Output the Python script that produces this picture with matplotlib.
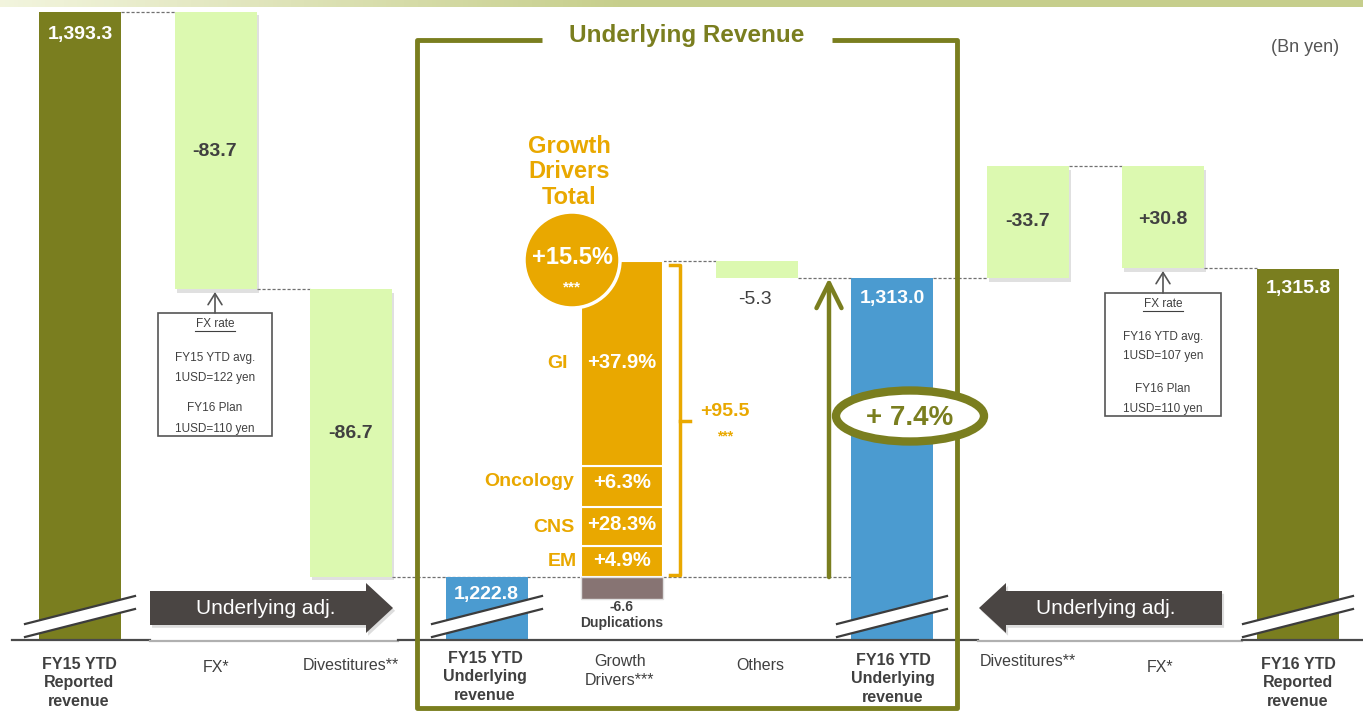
import numpy as np
import matplotlib.pyplot as plt
import matplotlib.patheffects as pe
from matplotlib.patches import Ellipse, Circle, Rectangle, Polygon

plt.rcParams['font.family'] = ['Liberation Sans', 'DejaVu Sans']

# ---------------------------------------------
# DATA (Bn yen)
# ---------------------------------------------
reported_fy15 = 1393.3
fx_fy15 = -83.7
div_fy15 = -86.7
underlying_fy15 = 1222.8

driver_names = ['EM', 'CNS', 'Oncology', 'GI']
driver_values = [9.4, 11.6, 12.6, 61.9]
driver_growth = ['+4.9%', '+28.3%', '+6.3%', '+37.9%']
drivers_total = 95.5
drivers_total_growth = '+15.5%'
duplications = -6.6
others = -5.3

underlying_fy16 = 1313.0
div_fy16 = -33.7
fx_fy16 = 30.8
reported_fy16 = 1315.8
underlying_growth = '+ 7.4%'

category_labels = ['FY15 YTD\nReported\nrevenue', 'FX*', 'Divestitures**',
                   'FY15 YTD\nUnderlying\nrevenue', 'Growth\nDrivers***', 'Others',
                   'FY16 YTD\nUnderlying\nrevenue', 'Divestitures**', 'FX*',
                   'FY16 YTD\nReported\nrevenue']
fx_box_left = ['FY15 YTD avg.', '1USD=122 yen', 'FY16 Plan', '1USD=110 yen']
fx_box_right = ['FY16 YTD avg.', '1USD=107 yen', 'FY16 Plan', '1USD=110 yen']

# ---------------------------------------------
# STYLE / LAYOUT
# ---------------------------------------------
OLIVE = '#7a7e1f'
LGREEN = '#dcf9b0'
BLUE = '#4b9bd0'
ORANGE = '#e9a800'
DUP = '#877473'
DARK = '#404040'
ARROWC = '#4a4543'

W, H = 1363, 711
YTOP, YBOT = 1396.9, 1182.4          # value axis mapped onto the whole figure height
BW = 82
xpos = [80, 216, 351, 487, 622, 757, 892, 1028, 1163, 1298]


def px2val(py):
    return YTOP - py * (YTOP - YBOT) / H


BASE = px2val(640)                   # broken axis: bars start at the baseline

fig = plt.figure(figsize=(W / 100, H / 100), dpi=100)
fig.patch.set_facecolor('white')
ax = fig.add_axes([0, 0, 1, 1])
ax.set_xlim(0, W)
ax.set_ylim(YBOT, YTOP)
ax.axis('off')

# pixel overlay for decorations and text
ov = fig.add_axes([0, 0, 1, 1], zorder=2)
ov.patch.set_visible(False)

# top gradient strip
g = np.clip(np.linspace(0, 1, 300) * 2.2, 0, 1)
c0 = np.array([0.95, 0.96, 0.87])
c1 = np.array([0.78, 0.81, 0.55])
strip = c0 + (c1 - c0) * g[:, None]
ov.imshow(strip[None, :, :], extent=(0, W, 7, 0), aspect='auto', zorder=0)
ov.set_xlim(0, W)
ov.set_ylim(H, 0)
ov.axis('off')

shadow = [pe.SimplePatchShadow(offset=(1.5, -2.5), shadow_rgbFace='#9a9a9a', alpha=0.3), pe.Normal()]

# ---------------------------------------------
# BARS
# ---------------------------------------------
lvl1 = reported_fy15 + fx_fy15
lvl2 = lvl1 + div_fy15
top_gd = underlying_fy15 + drivers_total
r1 = underlying_fy16 - div_fy16

ax.bar(xpos[0], reported_fy15 - BASE, bottom=BASE, width=BW, color=OLIVE)
for b in ax.bar(xpos[1], -fx_fy15, bottom=lvl1, width=BW, color=LGREEN):
    b.set_path_effects(shadow)
for b in ax.bar(xpos[2], -div_fy15, bottom=lvl2, width=BW, color=LGREEN):
    b.set_path_effects(shadow)
ax.bar(xpos[3], underlying_fy15 - BASE, bottom=BASE, width=BW, color=BLUE)

bottoms = underlying_fy15 + np.concatenate([[0], np.cumsum(driver_values)[:-1]])
ax.bar([xpos[4]] * len(driver_values), driver_values, bottom=bottoms, width=BW,
       color=ORANGE, edgecolor='white', linewidth=1.5)
ax.bar(xpos[4], -duplications, bottom=underlying_fy15 + duplications, width=BW,
       color=DUP, edgecolor='#e0e0e0', linewidth=1)
ax.bar(xpos[5], -others, bottom=top_gd + others, width=BW, color=LGREEN)
ax.bar(xpos[6], underlying_fy16 - BASE, bottom=BASE, width=BW, color=BLUE)
for b in ax.bar(xpos[7], -div_fy16, bottom=underlying_fy16, width=BW, color=LGREEN):
    b.set_path_effects(shadow)
for b in ax.bar(xpos[8], fx_fy16, bottom=r1 - fx_fy16, width=BW, color=LGREEN):
    b.set_path_effects(shadow)
ax.bar(xpos[9], reported_fy16 - BASE, bottom=BASE, width=BW, color=OLIVE)

# dotted connectors
dash = dict(colors='#707070', linestyles=[(0, (2.5, 1.5))], linewidth=0.9, zorder=0.5)
h = BW / 2
ax.hlines(reported_fy15, xpos[0] + h, xpos[1] - h, **dash)
ax.hlines(lvl1, xpos[1] + h, xpos[2] - h, **dash)
ax.hlines(lvl2, xpos[2] + h, xpos[4] - h, **dash)
ax.hlines(underlying_fy15, xpos[4] + h, xpos[6] - h, **dash)
ax.hlines(top_gd, xpos[4] + h, xpos[5] - h, **dash)
ax.hlines(underlying_fy16, xpos[5] + h, xpos[6] - h, **dash)
ax.hlines(underlying_fy16, xpos[6] + h, xpos[7] - h, **dash)
ax.hlines(r1, xpos[7] + h, xpos[8] - h, **dash)
ax.hlines(r1 - fx_fy16, xpos[8] + h, xpos[9] - h, **dash)

# growth arrow FY15 underlying -> FY16 underlying
ax.annotate('', xy=(829, underlying_fy16), xytext=(829, underlying_fy15),
            arrowprops=dict(arrowstyle='->,head_length=0.9,head_width=0.45',
                            color=OLIVE, lw=3.2, mutation_scale=20,
                            shrinkA=0, shrinkB=0), zorder=3)

# ---------------------------------------------
# DECORATIONS (pixel overlay)
# ---------------------------------------------
# baseline
ov.plot([12, 150], [640, 640], color='#4a4a4a', lw=1.6)
ov.plot([150, 398], [641, 641], color='#b0b0b0', lw=1.6)
ov.plot([398, 978], [640, 640], color='#4a4a4a', lw=1.6)
ov.plot([978, 1242], [641, 641], color='#b0b0b0', lw=1.6)
ov.plot([1242, W], [640, 640], color='#4a4a4a', lw=1.6)

# axis break marks
for xc in [xpos[0], xpos[3], xpos[6], xpos[9]]:
    x0, x1 = xc - 55, xc + 55
    ov.add_patch(Polygon([(x0, 624), (x1, 596), (x1, 609), (x0, 637)],
                         closed=True, facecolor='white', edgecolor='none', zorder=3))
    ov.plot([x0, x1], [624, 596], color='#3c3c3c', lw=1.6, zorder=4)
    ov.plot([x0, x1], [637, 609], color='#3c3c3c', lw=1.6, zorder=4)

# "Underlying adj." arrows
arr_l = [(150, 591), (366, 591), (366, 583), (393, 608), (366, 633), (366, 625), (150, 625)]
arr_r = [(1222, 591), (1006, 591), (1006, 583), (979, 608), (1006, 633), (1006, 625), (1222, 625)]
for pts in (arr_l, arr_r):
    p = Polygon(pts, closed=True, facecolor=ARROWC, edgecolor='none', zorder=3)
    p.set_path_effects([pe.SimplePatchShadow(offset=(1.5, -2), shadow_rgbFace='#aaaaaa', alpha=0.4), pe.Normal()])
    ov.add_patch(p)
ov.text(266, 608, 'Underlying adj.', color='white', fontsize=15, ha='center', va='center', zorder=4)
ov.text(1106, 608, 'Underlying adj.', color='white', fontsize=15, ha='center', va='center', zorder=4)

# Underlying Revenue frame
ov.plot([542, 417, 417, 957, 957, 832], [40, 40, 708, 708, 40, 40], color=OLIVE, lw=3.5,
        solid_joinstyle='round', solid_capstyle='butt', zorder=3)
ov.text(687, 42, 'Underlying Revenue', color=OLIVE, fontsize=17.5, fontweight='bold',
        ha='center', va='baseline')
ov.text(1305, 47, '(Bn yen)', color='#555555', fontsize=13, ha='center', va='center')

# FX rate boxes
def fx_box(x0, y0, w, hgt, lines, ys, bar_bottom_px):
    xc = x0 + w / 2
    ov.add_patch(Rectangle((x0, y0), w, hgt, facecolor='white', edgecolor='#555555', lw=1.2, zorder=3))
    ov.annotate('', xy=(xc, bar_bottom_px), xytext=(xc, y0),
                arrowprops=dict(arrowstyle='->,head_length=0.8,head_width=0.5', color='#555555',
                                lw=1.2, shrinkA=0, shrinkB=0))
    ov.text(xc, ys[0], 'FX rate', fontsize=8.5, color=DARK, ha='center', va='center', zorder=4)
    ov.plot([xc - 20, xc + 20], [ys[0] + 6.5, ys[0] + 6.5], color=DARK, lw=0.8, zorder=4)
    for s, yy in zip(lines, ys[1:]):
        ov.text(xc, yy, s, fontsize=8.5, color=DARK, ha='center', va='center', zorder=4)

fx_box(158, 313, 114, 123, fx_box_left, [324, 358, 378, 408, 429], 292)
fx_box(1105, 293, 116, 123, fx_box_right, [304, 337, 356, 389, 409], 271)

# growth drivers circle and title
ov.add_patch(Circle((572, 260), 48, facecolor=ORANGE, edgecolor='white', lw=2.5, zorder=3))
ov.text(572, 258, drivers_total_growth, color='white', fontsize=17, fontweight='bold',
        ha='center', va='center', zorder=4)
ov.text(572, 287, '***', color='white', fontsize=11, fontweight='bold', ha='center', va='center', zorder=4)
ov.text(569, 172, 'Growth\nDrivers\nTotal', color=ORANGE, fontsize=17, fontweight='bold',
        ha='center', va='center', linespacing=1.13)

# bracket for drivers total
ov.plot([670, 680, 680, 670], [265, 265, 575, 575], color=ORANGE, lw=2.5,
        solid_joinstyle='round')
ov.plot([680, 690], [421, 421], color=ORANGE, lw=2.5)
ov.text(725, 412, '+%.1f' % drivers_total, color=ORANGE, fontsize=14, fontweight='bold',
        ha='center', va='center')
ov.text(725, 436, '***', color=ORANGE, fontsize=10, fontweight='bold', ha='center', va='center')

# driver labels
name_y = [562, 527, 481, 363]
val_y = [561, 525, 482, 363]
name_x = [577, 575, 574, 568]
for n, gtxt, ny, vy, nx in zip(driver_names, driver_growth, name_y, val_y, name_x):
    ov.text(nx, ny, n, color=ORANGE, fontsize=14, fontweight='bold', ha='right', va='center')
    ov.text(622, vy, gtxt, color='white', fontsize=14.5, fontweight='bold', ha='center', va='center')

ov.text(622, 607, '%.1f' % duplications, color=DARK, fontsize=10, fontweight='bold', ha='center', va='center')
ov.text(622, 623, 'Duplications', color=DARK, fontsize=10, fontweight='bold', ha='center', va='center')

# +7.4% ellipse
ov.add_patch(Ellipse((910, 416), 148, 51, facecolor='white', edgecolor=OLIVE, lw=6, zorder=5))
ov.text(910, 418, underlying_growth, color=OLIVE, fontsize=20, fontweight='bold',
        ha='center', va='center', zorder=6)

# value labels
ov.text(80, 34, '{:,.1f}'.format(reported_fy15), color='white', fontsize=14, fontweight='bold', ha='center', va='center')
ov.text(215, 152, '%.1f' % fx_fy15, color=DARK, fontsize=14, fontweight='bold', ha='center', va='center')
ov.text(351, 433, '%.1f' % div_fy15, color=DARK, fontsize=14, fontweight='bold', ha='center', va='center')
ov.text(486, 595, '{:,.1f}'.format(underlying_fy15), color='white', fontsize=14, fontweight='bold', ha='center', va='center', zorder=5)
ov.text(755, 299, '%.1f' % others, color=DARK, fontsize=14, ha='center', va='center')
ov.text(892, 299, '{:,.1f}'.format(underlying_fy16), color='white', fontsize=14, fontweight='bold', ha='center', va='center')
ov.text(1028, 221, '%.1f' % div_fy16, color=DARK, fontsize=14, fontweight='bold', ha='center', va='center')
ov.text(1163, 219, '+%.1f' % fx_fy16, color=DARK, fontsize=14, fontweight='bold', ha='center', va='center')
ov.text(1298, 289, '{:,.1f}'.format(reported_fy16), color='white', fontsize=14, fontweight='bold', ha='center', va='center')

# category labels
label_x = [79, 216, 351, 485, 620, 760, 893, 1028, 1160, 1298]
label_y = [683, 667, 665, 677, 671, 666, 679, 662, 668, 683]
for i, (s, lx, ly) in enumerate(zip(category_labels, label_x, label_y)):
    bold = '\n' in s and 'YTD' in s
    ov.text(lx, ly, s, color=DARK, fontsize=11.5, fontweight='bold' if bold else 'normal',
            ha='center', va='center', linespacing=1.3)

fig.savefig('out.png', dpi=100, facecolor='white')
